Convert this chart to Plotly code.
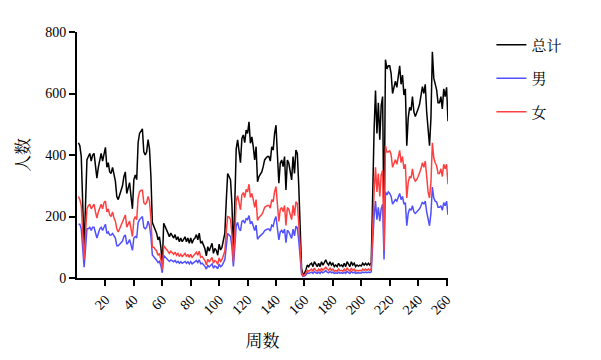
import plotly.graph_objects as go

weeks = list(range(1, 262))

total = [
    440, 430, 395, 230, 95, 240, 385, 395, 405, 380,
    400, 405, 365, 325, 360, 385, 405, 380, 410, 425,
    360, 375, 345, 340, 360, 330, 315, 265, 255, 270,
    285, 300, 330, 345, 275, 290, 310, 265, 225, 320,
    335, 320, 440, 470, 480, 485, 410, 400, 410, 450,
    420, 330, 180, 170, 160, 146, 124, 134, 100, 45,
    178, 168, 160, 146, 134, 146, 138, 130, 141, 124,
    134, 118, 130, 118, 126, 134, 118, 130, 113, 130,
    113, 125, 130, 141, 124, 146, 113, 118, 107, 95,
    72, 102, 88, 100, 113, 80, 96, 90, 74, 110,
    91, 100, 124, 146, 250, 340, 330, 319, 240, 80,
    240, 420, 449, 400, 375, 454, 465, 440, 481, 470,
    508, 438, 459, 427, 384, 427, 313, 330, 340, 345,
    362, 384, 390, 395, 395, 380, 427, 416, 470, 497,
    400, 308, 373, 384, 362, 395, 286, 384, 373, 340,
    319, 395, 340, 416, 405, 300, 120, 30, 12, 15,
    26, 42, 37, 45, 48, 37, 53, 42, 37, 48,
    37, 53, 42, 50, 59, 48, 42, 53, 42, 48,
    37, 42, 37, 48, 39, 42, 37, 48, 37, 53,
    42, 37, 53, 42, 48, 37, 42, 39, 42, 39,
    48, 42, 48, 42, 48, 42, 50, 280, 480, 610,
    470, 570, 450, 560, 590, 150, 710, 680, 690, 690,
    665, 600, 620, 640, 620, 660, 690, 630, 660, 595,
    615, 430, 520, 555, 545, 590, 540, 525, 535, 550,
    565, 590, 622, 600, 630, 540, 470, 430, 520, 736,
    650, 625, 612, 570, 570, 590, 550, 615, 590, 620,
    510,
]

female = [
    265, 255, 235, 140, 60, 145, 225, 235, 240, 225,
    235, 240, 215, 195, 215, 225, 240, 225, 245, 250,
    215, 225, 205, 200, 215, 195, 185, 160, 150, 160,
    170, 180, 195, 205, 165, 175, 185, 160, 135, 190,
    200, 190, 260, 280, 285, 285, 245, 240, 245, 265,
    250, 195, 100, 100, 95, 88, 74, 80, 60, 28,
    105, 100, 95, 87, 80, 87, 82, 77, 84, 74,
    80, 70, 77, 70, 75, 80, 70, 77, 67, 77,
    67, 74, 77, 84, 74, 87, 67, 70, 64, 57,
    43, 61, 52, 60, 67, 48, 57, 54, 44, 65,
    54, 60, 74, 87, 150, 200, 198, 190, 140, 52,
    140, 250, 268, 240, 222, 270, 278, 262, 288, 280,
    305, 262, 275, 255, 230, 255, 187, 197, 203, 206,
    216, 230, 233, 236, 236, 227, 255, 248, 281, 297,
    239, 184, 223, 229, 216, 236, 171, 229, 223, 203,
    190, 236, 203, 248, 242, 178, 70, 18, 7, 9,
    16, 25, 22, 27, 29, 22, 32, 25, 22, 29,
    22, 32, 25, 30, 35, 29, 25, 32, 25, 29,
    22, 25, 22, 29, 23, 25, 22, 29, 22, 32,
    25, 22, 32, 25, 29, 22, 25, 23, 25, 23,
    29, 25, 29, 25, 29, 25, 30, 165, 280, 360,
    280, 340, 265, 335, 350, 90, 430, 410, 410, 415,
    400, 360, 370, 385, 370, 395, 415, 375, 395, 355,
    370, 260, 310, 330, 325, 355, 325, 315, 320, 330,
    340, 355, 375, 360, 380, 325, 280, 260, 310, 440,
    390, 375, 365, 340, 340, 355, 330, 370, 355, 370,
    305,
]

male = [
    175, 175, 160, 90, 35, 95, 160, 160, 165, 155,
    165, 165, 150, 130, 145, 160, 165, 155, 165, 175,
    145, 150, 140, 140, 145, 135, 130, 105, 105, 110,
    115, 120, 135, 140, 110, 115, 125, 105, 90, 130,
    135, 130, 180, 190, 195, 200, 165, 160, 165, 185,
    170, 135, 75, 70, 65, 58, 50, 54, 40, 17,
    73, 68, 65, 59, 54, 59, 56, 53, 57, 50,
    54, 48, 53, 48, 51, 54, 48, 53, 46, 53,
    46, 51, 53, 57, 50, 59, 46, 48, 43, 38,
    29, 41, 36, 40, 46, 32, 39, 36, 30, 45,
    37, 40, 50, 59, 100, 145, 140, 135, 100, 38,
    100, 170, 181, 160, 153, 184, 187, 178, 193, 190,
    203, 176, 184, 172, 154, 172, 126, 133, 137, 139,
    146, 154, 157, 159, 159, 153, 172, 168, 189, 200,
    161, 124, 150, 155, 146, 159, 115, 155, 150, 137,
    129, 159, 137, 168, 163, 122, 50, 12, 5, 6,
    10, 17, 15, 18, 19, 15, 21, 17, 15, 19,
    15, 21, 17, 20, 24, 19, 17, 21, 17, 19,
    15, 17, 15, 19, 16, 17, 15, 19, 15, 21,
    17, 15, 21, 17, 19, 15, 17, 16, 17, 16,
    19, 17, 19, 17, 19, 17, 20, 115, 200, 250,
    190, 230, 185, 225, 240, 60, 280, 270, 280, 275,
    265, 240, 250, 255, 250, 265, 275, 255, 265, 240,
    245, 170, 210, 225, 220, 235, 215, 210, 215, 220,
    225, 235, 247, 240, 250, 215, 190, 170, 210, 296,
    260, 250, 247, 230, 230, 235, 220, 245, 235, 250,
    205,
]

x_ticks = list(range(20, 261, 20))
y_ticks = [0, 200, 400, 600, 800]
series_names = ["总计", "男", "女"]

FONT = "Liberation Serif, Noto Serif CJK SC, Noto Sans CJK SC, serif"

fig = go.Figure()
for name, vals, color, grp in [
    (series_names[0], total, "#000000", "g1"),
    (series_names[1], male, "#5050ff", "g2"),
    (series_names[2], female, "#ff4040", "g3"),
]:
    fig.add_trace(go.Scatter(
        x=weeks, y=vals, mode="lines", name=name, legendgroup=grp,
        line=dict(color=color, width=1.5),
    ))

# page body has an 8px margin, so the figure is drawn 8px in from the top-left
fig.update_layout(
    width=593, height=352,
    margin=dict(l=69, r=153, t=24, b=82),
    plot_bgcolor="white", paper_bgcolor="white",
    font=dict(family=FONT, size=14, color="#000"),
    legend=dict(
        x=1.117, y=1.014, xanchor="left", yanchor="top",
        font=dict(family=FONT, size=15, color="#000"),
        tracegroupgap=11, bgcolor="rgba(0,0,0,0)",
    ),
    xaxis=dict(
        range=[0, 261], tickvals=x_ticks, ticktext=[str(v) for v in x_ticks],
        tickangle=-45, showline=True, linecolor="black", linewidth=2,
        ticks="outside", ticklen=6, tickwidth=2, tickcolor="black",
        showgrid=False, zeroline=False,
        tickfont=dict(family=FONT, size=14),
        title=dict(text="周数", font=dict(family=FONT, size=17), standoff=18),
    ),
    yaxis=dict(
        range=[0, 800], tickvals=y_ticks, ticktext=[str(v) for v in y_ticks],
        showline=True, linecolor="black", linewidth=2,
        ticks="outside", ticklen=6, tickwidth=2, tickcolor="black",
        showgrid=False, zeroline=False,
        tickfont=dict(family=FONT, size=14),
        title=dict(text="人数", font=dict(family=FONT, size=17), standoff=11),
    ),
)

fig.write_html("out.html")
